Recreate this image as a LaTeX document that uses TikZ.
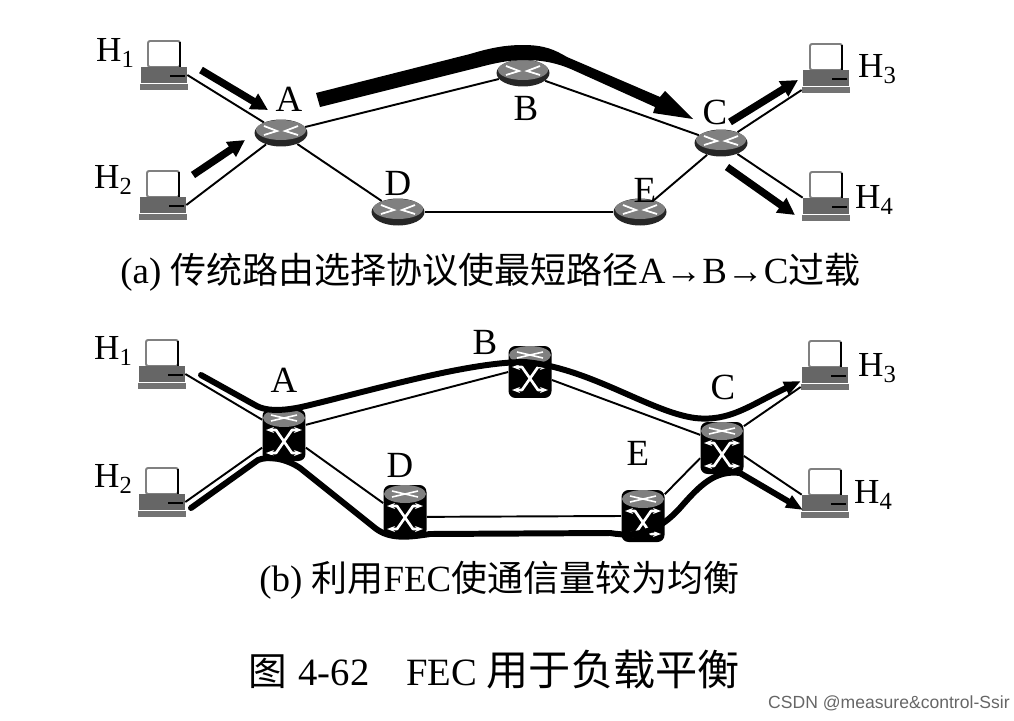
\documentclass[tikz,border=0pt]{standalone}
\usepackage{fontspec}
\setmainfont{Liberation Serif}
\newfontfamily\cjk{Noto Sans CJK SC}
\newfontfamily\marksans{Liberation Sans}
\usepackage{tikz}
\usetikzlibrary{arrows.meta,shapes.geometric}

\tikzset{
  hostscreen/.style={rectangle,rounded corners=.04cm,draw=black!50,line width=1.1pt,fill=white,inner sep=0pt,minimum width=.64cm,minimum height=.52cm},
  hostkey/.style={rectangle,fill=black!60,inner sep=0pt,minimum width=.92cm,minimum height=.32cm},
  hostfoot/.style={rectangle,fill=black!55,inner sep=0pt,minimum width=.96cm,minimum height=.12cm},
  flatrouter/.style={ellipse,fill=black!85,inner sep=0pt,minimum width=1.06cm,minimum height=.54cm},
  tallrouter/.style={rectangle,rounded corners=.14cm,fill=black,inner sep=0pt,minimum width=.86cm,minimum height=1.04cm},
  link/.style={line width=1.1pt},
  load/.style={line width=3.4pt,line cap=round},
  loadtip/.style={load,-{Triangle[length=.34cm,width=.26cm]}},
  flow/.style={line width=4.2pt,-{Triangle[length=.34cm,width=.34cm]}},
  rlabel/.style={font=\fontsize{21}{23}\selectfont,inner sep=0pt},
  hlabel/.style={font=\fontsize{20}{22}\selectfont,inner sep=0pt},
  caption/.style={font=\fontsize{21}{25}\selectfont,inner sep=0pt,anchor=west},
  figtitle/.style={font=\fontsize{22}{27}\selectfont,inner sep=0pt,anchor=west},
}

\newcommand{\cjkcap}[1]{{\fontsize{20.5}{25}\selectfont\cjk #1}}
\newcommand{\hostpc}[2]{
  \begin{scope}[shift={(#2)}]
    \node[hostscreen] (#1m) at (0,-21) {};
    \draw[line width=1.2pt] (16,-33) -- (16,-8);
    \node[hostkey] (#1) at (0,0) {};
    \draw[line width=.9pt] (6,1) -- (21,1);
    \node[hostfoot] (#1f) at (0,12) {};
  \end{scope}
}
\newcommand{\routerflat}[2]{
  \begin{scope}[shift={(#2)}]
    \node[flatrouter] (#1) at (0,0) {};
    \fill[black!50] (0,-3) ellipse (25 and 10);
    \draw[white,line width=1pt] (-17,-7) -- (-4,-2) -- (-17,2);
    \draw[white,line width=1pt] (17,-7) -- (4,-2) -- (17,2);
  \end{scope}
}
\newcommand{\routertall}[2]{
  \begin{scope}[shift={(#2)}]
    \node[tallrouter] (#1) at (0,0) {};
    \fill[black!50] (0,-17) ellipse (21 and 9);
    \draw[white,line width=.9pt] (-13,-20) -- (13,-14);
    \draw[white,line width=.9pt] (-13,-14) -- (13,-20);
    \draw[white,line width=1.5pt,{Stealth[length=.16cm]}-{Stealth[length=.16cm]},line join=round] (-18,-5) -- (-8,-5) -- (8,18) -- (18,18);
    \draw[white,line width=1.5pt,{Stealth[length=.16cm]}-{Stealth[length=.16cm]},line join=round] (18,-5) -- (8,-5) -- (-8,18) -- (-18,18);
  \end{scope}
}

\begin{document}
\begin{tikzpicture}[x=.02cm,y=-.02cm]
\useasboundingbox (0,0) rectangle (1014,720);

% (a)
\foreach \n/\p in {ha/{164,75},hb/{163,205},hc/{826,78},hd/{826,206}}
  {\hostpc{\n}{\p}}
\foreach \n/\p in {ra/{281,133},rb/{523,73},rc/{721,143},rd/{398,212},re/{640,212}}
  {\routerflat{\n}{\p}}

\draw[link] (ha.east) -- (ra);
\draw[link] (hb.east) -- (ra);
\draw[link] (ra) -- (rb);
\draw[link] (rb) -- (rc);
\draw[link] (ra) -- (rd);
\draw[link] (rd) -- (re);
\draw[link] (re) -- (rc);
\draw[link] (rc) -- (hcf.west);
\draw[link] (rc) -- (hd.north west);

\coordinate (fa1) at (201,70);
\coordinate (fa2) at (268,110);
\coordinate (fb1) at (193,175);
\coordinate (fb2) at (245,140);
\coordinate (fc1) at (730,122);
\coordinate (fc2) at (798,80);
\coordinate (fd1) at (727,167);
\coordinate (fd2) at (795,215);
\draw[flow] (fa1) -- (fa2);
\draw[flow] (fb1) -- (fb2);
\draw[flow] (fc1) -- (fc2);
\draw[flow] (fd1) -- (fd2);

\fill (316,93) -- (470,54) .. controls (490,48) and (505,45) .. (523,45)
  .. controls (545,45) and (555,50) .. (567,57)
  -- (660,97) -- (665,91) -- (693,119) -- (653,113) -- (655,107)
  -- (573,70) .. controls (555,62) and (540,60) .. (523,60)
  .. controls (510,60) and (495,63) .. (480,67) -- (320,107) -- cycle;

% (b)
\foreach \n/\p in {hab/{162,374},hbb/{162,502},hcb/{825,375},hdb/{825,503}}
  {\hostpc{\n}{\p}}
\foreach \n/\p in {rab/{284,435},rbb/{530,372},rcb/{722,448},rdb/{405,511},reb/{643,516}}
  {\routertall{\n}{\p}}

\draw[link] (hab.east) -- (rab.145);
\draw[link] (hbb.east) -- (rab.210);
\draw[link] (rab.25) -- (rbb.west);
\draw[link] (rbb.-20) -- (rcb.149);
\draw[link] (rab.-30) -- (rdb.160);
\draw[link] (rdb.-15) -- (reb.west);
\draw[link] (reb.45) -- (rcb.205);
\draw[link] (rcb.45) -- (hcbf.west);
\draw[link] (rcb.-20) -- (hdb.north west);

\coordinate (pa) at (201,375);
\coordinate (pb) at (191,508);
\coordinate (pc) at (801,381);
\coordinate (pd) at (803,510);
\draw[loadtip] (pa) -- (255,405) .. controls (268,413) and (290,410) .. (310,405)
  .. controls (380,388) and (470,362) .. (525,362)
  .. controls (590,368) and (650,412) .. (695,418)
  .. controls (730,422) and (750,405) .. (pc);
\draw[loadtip] (pb) -- (258,460) .. controls (268,456) and (285,458) .. (300,468)
  -- (375,528) .. controls (390,540) and (410,537) .. (430,534)
  -- (610,533) .. controls (640,538) and (660,530) .. (680,508)
  .. controls (700,485) and (715,470) .. (740,473) -- (pd);

% labels
\foreach \n/\p/\t in {la/{289,99}/A,lb/{526,108}/B,lc/{715,112}/C,ld/{398,183}/D,le/{645,190}/E,
  lab/{284,380}/A,lbb/{485,342}/B,lcb/{723,387}/C,ldb/{400,465}/D,leb/{638,453}/E}
  {\node[rlabel] (\n) at (\p) {\t};}
\foreach \n/\p/\t in {lha/{115,53}/1,lhb/{113,180}/2,lhc/{877,69}/3,lhd/{874,200}/4,
  lhab/{113,351}/1,lhbb/{113,479}/2,lhcb/{877,368}/3,lhdb/{873,495}/4}
  {\node[hlabel] (\n) at (\p) {H\raisebox{-.35ex}{\fontsize{14}{14}\selectfont\t}};}

\node[caption] (capa) at (120,272) {(a) \cjkcap{传统路由选择协议使最短路径}A→B→C\cjkcap{过载}};
\node[caption] (capb) at (259,580) {(b) \cjkcap{利用}FEC\cjkcap{使通信量较为均衡}};
\node[figtitle] (capc) at (248,670) {{\cjk 图}\hspace{.3em}4-62\hspace{.95em}FEC {\fontsize{24}{27}\selectfont\cjk 用于负载平衡}};
\node[inner sep=0pt,anchor=east,text=black!60,font=\marksans\fontsize{10}{12}\selectfont] (mark) at (1010,703) {CSDN @measure\&control-Ssir};
\end{tikzpicture}
\end{document}
